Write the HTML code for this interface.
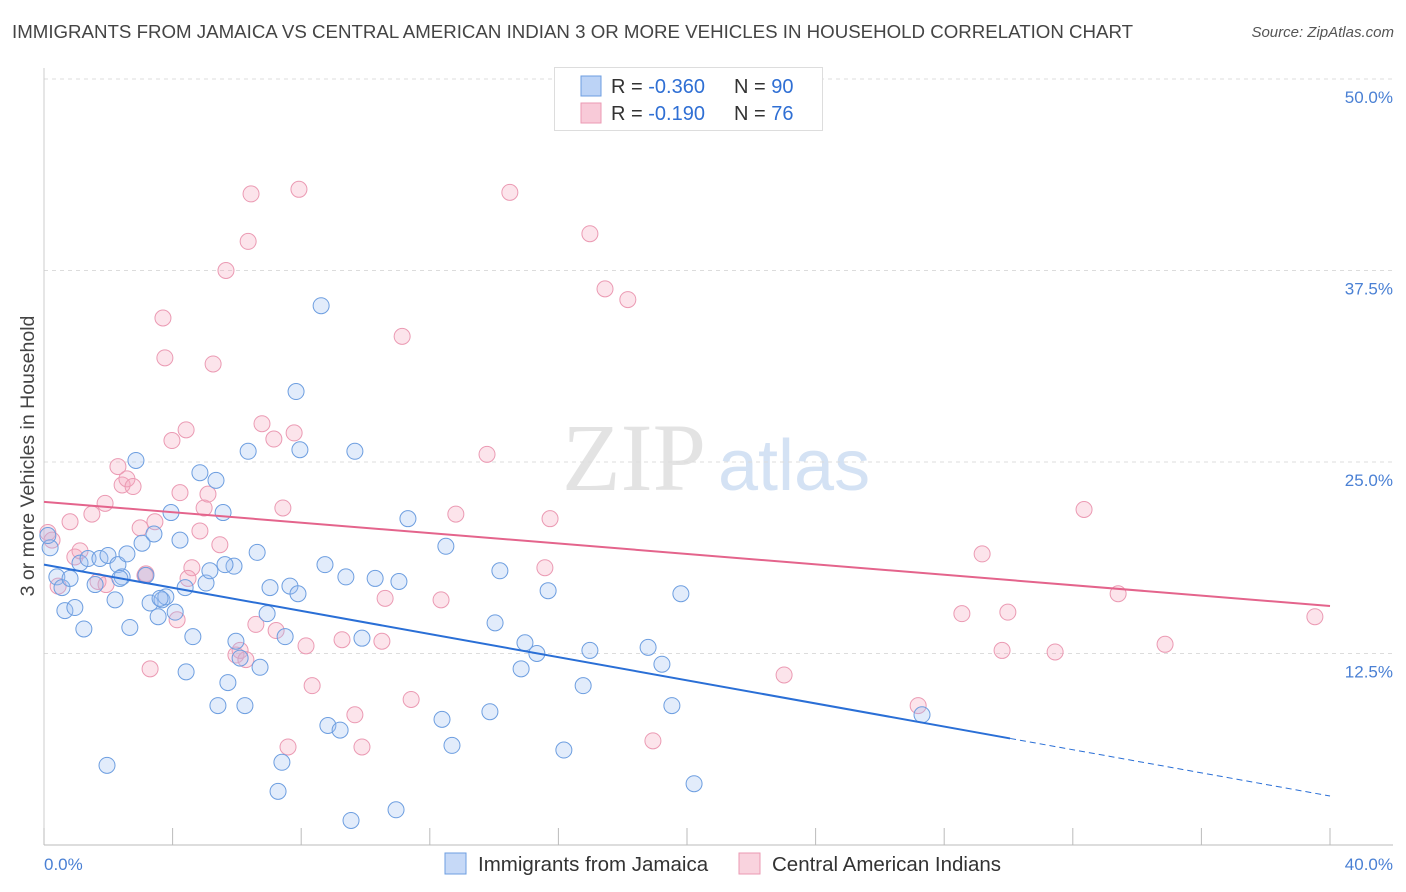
<!DOCTYPE html>
<html><head><meta charset="utf-8"><style>
body{margin:0;background:#fff;font-family:"Liberation Sans",sans-serif;}
#wrap{position:relative;width:1406px;height:892px;overflow:hidden;}
.t{position:absolute;white-space:nowrap;}
</style></head><body>
<div id="wrap">
<div class="t" style="left:12px;top:21px;font-size:18.7px;color:#444;">IMMIGRANTS FROM JAMAICA VS CENTRAL AMERICAN INDIAN 3 OR MORE VEHICLES IN HOUSEHOLD CORRELATION CHART</div>
<div class="t" style="right:12px;top:24px;font-size:15px;color:#555;font-style:italic;">Source: ZipAtlas.com</div>
<svg id="svg" width="1406" height="892" style="position:absolute;left:0;top:0"></svg>
</div>
<script>
const xTicks=[0,4,8,12,16,20,24,28,32,36,40];
const yTicks=[12.5,25,37.5,50];
const yTickLabels=["12.5%","25.0%","37.5%","50.0%"];
const blueX=[0.19,0.40,0.56,0.65,0.81,0.96,1.12,1.24,1.37,1.59,1.74,1.99,2.21,2.30,2.43,2.58,2.67,2.86,3.05,3.17,3.30,3.42,3.55,3.67,3.79,3.95,4.08,4.23,4.42,4.39,4.63,4.85,5.04,5.16,5.35,5.41,5.57,5.72,5.91,5.97,6.10,6.25,6.35,6.63,6.72,6.94,7.03,7.40,7.28,7.50,7.65,7.84,7.90,7.96,8.62,8.74,8.83,9.21,9.39,9.55,9.67,9.89,10.30,10.95,11.04,11.32,12.38,12.50,12.69,13.87,14.03,14.18,14.84,14.96,15.33,15.68,16.17,16.77,16.98,18.79,19.22,19.53,19.81,20.22,27.31,1.96,0.12,5.63,3.61,2.36];
const blueY=[19.4,17.5,16.8,15.3,17.4,15.5,18.4,14.1,18.7,17.0,18.7,18.9,16.0,18.3,17.5,19.0,14.2,25.1,19.7,17.6,15.8,20.3,14.9,16.0,16.2,21.7,15.2,19.9,11.3,16.8,13.6,24.3,17.1,17.9,23.8,9.1,21.7,10.6,18.2,13.3,12.2,9.1,25.7,19.1,11.6,15.1,16.8,5.4,3.5,13.6,16.9,29.6,16.4,25.8,35.2,18.3,7.8,7.5,17.5,1.6,25.7,13.5,17.4,2.3,17.2,21.3,8.2,19.5,6.5,8.7,14.5,17.9,11.5,13.2,12.5,16.6,6.2,10.4,12.7,12.9,11.8,9.1,16.4,4.0,8.5,5.2,20.2,18.3,16.1,17.4];
const pinkX=[0.12,0.25,0.44,0.81,0.96,1.12,1.49,1.68,1.90,2.30,2.43,2.58,2.77,2.99,3.17,3.30,3.45,3.70,3.76,3.98,4.14,4.23,4.42,4.60,4.85,4.98,5.10,5.26,5.47,5.66,5.97,6.10,6.35,6.44,6.59,6.78,7.15,7.22,7.43,7.59,7.78,7.93,8.15,8.34,9.27,9.67,9.89,10.51,10.61,11.14,11.42,12.35,12.81,13.78,14.49,15.58,15.74,16.98,17.45,18.16,18.94,23.02,27.19,28.55,29.18,29.80,29.98,31.45,32.35,33.41,34.87,39.53,1.93,3.14,4.48,6.28];
const pinkY=[20.4,19.9,16.9,21.1,18.8,19.2,21.6,17.2,22.3,24.7,23.5,23.9,23.4,20.7,17.7,11.5,21.1,34.4,31.8,26.4,14.7,23.0,27.1,18.1,20.5,22.0,22.9,31.4,19.6,37.5,12.4,12.7,39.4,42.5,14.4,27.5,26.5,14.0,22.0,6.4,26.9,42.8,13.0,10.4,13.4,8.5,6.4,13.3,16.1,33.2,9.5,16.0,21.6,25.5,42.6,18.1,21.3,39.9,36.3,35.6,6.8,11.1,9.1,15.1,19.0,12.7,15.2,12.6,21.9,16.4,13.1,14.9,17.0,17.6,17.4,12.1];
const blueTrend=[18.3,3.2];
const blueSolidEnd=30.05;
const pinkTrend=[22.4,15.6];

const X0=44,X1=1330,Y0=845,Y50=79;
const sx=v=>X0+(X1-X0)*v/40;
const sy=v=>Y0-(Y0-Y50)*v/50;
const svg=document.getElementById('svg');
const NS='http://www.w3.org/2000/svg';
function mk(tag,attrs,parent){const e=document.createElementNS(NS,tag);for(const k in attrs)e.setAttribute(k,attrs[k]);(parent||svg).appendChild(e);return e;}

let wm=mk('text',{x:634,y:490,'font-size':96,'font-family':'Liberation Serif,serif',fill:'#e3e3e3','text-anchor':'middle'});
wm.textContent='ZIP';


let wm2=mk('text',{x:718,y:490,'font-size':72,'font-family':'Liberation Sans,sans-serif',fill:'#d4e2f4'});
wm2.textContent='atlas';



yTicks.forEach((v,i)=>{
  const g=mk('line',{x1:X0,x2:1393,y1:sy(v),y2:sy(v),stroke:'#dcdcdc','stroke-dasharray':'4,4'});
  
  
  const t=mk('text',{x:1393,y:sy(v)+24,'font-size':17,fill:'#4a80d4','text-anchor':'end','font-family':'Liberation Sans,sans-serif'});
  t.textContent=yTickLabels[i];
  
  
});
let ax=mk('line',{x1:X0,x2:1393,y1:Y0,y2:Y0,stroke:'#bbb'});


let ay=mk('line',{x1:X0,x2:X0,y1:68,y2:Y0,stroke:'#ccc'});


xTicks.forEach(v=>{
  const l=mk('line',{x1:sx(v),x2:sx(v),y1:Y0,y2:Y0-17,stroke:'#bbb'});
  
  
});
[[0,'0.0%','start',44],[40,'40.0%','end',1393]].forEach(a=>{
  const t=mk('text',{x:a[3],y:870,'font-size':17,fill:'#4a80d4','text-anchor':a[2],'font-family':'Liberation Sans,sans-serif'});
  t.textContent=a[1];
  
  
});
let yt=mk('text',{x:0,y:0,'font-size':19.5,fill:'#444','text-anchor':'middle','transform':'translate(34,456) rotate(-90)','font-family':'Liberation Sans,sans-serif'});
yt.textContent='3 or more Vehicles in Household';



function pts(xs,ys,fill,stroke,name){
  xs.forEach((x,i)=>{
    const c=mk('circle',{cx:sx(x),cy:sy(ys[i]),r:8,fill:fill,stroke:stroke,'stroke-width':1});
    
    
  });
}
pts(pinkX,pinkY,'rgba(244,167,190,0.3)','#eb9ab3','point-central-american-indian');
pts(blueX,blueY,'rgba(160,192,242,0.3)','#6d9ee0','point-jamaica');

const by=x=>blueTrend[0]+(blueTrend[1]-blueTrend[0])*x/40;
let bl=mk('line',{x1:sx(0),y1:sy(by(0)),x2:sx(blueSolidEnd),y2:sy(by(blueSolidEnd)),stroke:'#2a6fd6','stroke-width':2});


let bd=mk('line',{x1:sx(blueSolidEnd),y1:sy(by(blueSolidEnd)),x2:sx(40),y2:sy(by(40)),stroke:'#2a6fd6','stroke-width':1,'stroke-dasharray':'6,4'});


let pl=mk('line',{x1:sx(0),y1:sy(pinkTrend[0]),x2:sx(40),y2:sy(pinkTrend[1]),stroke:'#e4648c','stroke-width':2});



let lb=mk('rect',{x:554.5,y:67.5,width:268,height:63,fill:'#fff',stroke:'#ddd'});


[[76,'rgba(160,192,242,0.7)','#6d9ee0','-0.360','90',96],[103,'rgba(244,167,190,0.6)','#eb9ab3',' -0.190',' 76',123]].forEach((r,i)=>{
  const s=mk('rect',{x:581,y:r[0],width:20,height:20,fill:r[1],stroke:r[2]});
  
  
  const t=mk('text',{x:611,y:r[5]-3,'font-size':20,fill:'#333','font-family':'Liberation Sans,sans-serif','xml:space':'preserve'});
  t.innerHTML='R = <tspan fill="#2f6fd4">'+r[3]+'</tspan><tspan x="734">N = </tspan><tspan fill="#2f6fd4">'+r[4]+'</tspan>';
  
  
});
[[445,'rgba(160,192,242,0.6)','#6d9ee0','Immigrants from Jamaica'],[739,'rgba(244,167,190,0.5)','#eb9ab3','Central American Indians']].forEach(r=>{
  const s=mk('rect',{x:r[0],y:853,width:21,height:21,fill:r[1],stroke:r[2]});
  
  
  const t=mk('text',{x:r[0]+33,y:871,'font-size':20.5,fill:'#333','font-family':'Liberation Sans,sans-serif'});
  t.textContent=r[3];
  
  
});
</script>
</body></html>
